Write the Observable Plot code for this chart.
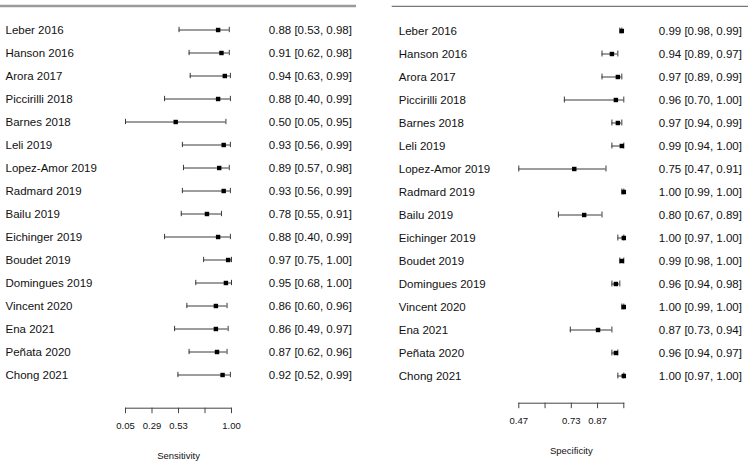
<!DOCTYPE html>
<html>
<head>
<meta charset="utf-8">
<script src="https://cdn.jsdelivr.net/npm/d3@7"></script>
<script src="https://cdn.jsdelivr.net/npm/@observablehq/plot@0.6"></script>
<style>
  html, body { margin: 0; padding: 0; background: #fff; }
  #wrap { display: flex; width: 750px; height: 461px; overflow: hidden; }
  #wrap > div { width: 375px; height: 461px; }
  svg { font-family: "Liberation Sans", Arial, sans-serif; }
</style>
</head>
<body>
<div id="wrap"><div id="left"></div><div id="right"></div></div>
<script>
const studies = ["Leber 2016","Hanson 2016","Arora 2017","Piccirilli 2018","Barnes 2018","Leli 2019",
  "Lopez-Amor 2019","Radmard 2019","Bailu 2019","Eichinger 2019","Boudet 2019","Domingues 2019",
  "Vincent 2020","Ena 2021","Peñata 2020","Chong 2021"];

const sensEst = [0.88,0.91,0.94,0.88,0.50,0.93,0.89,0.93,0.78,0.88,0.97,0.95,0.86,0.86,0.87,0.92];
const sensLo  = [0.53,0.62,0.63,0.40,0.05,0.56,0.57,0.56,0.55,0.40,0.75,0.68,0.60,0.49,0.62,0.52];
const sensHi  = [0.98,0.98,0.99,0.99,0.95,0.99,0.98,0.99,0.91,0.99,1.00,1.00,0.96,0.97,0.96,0.99];

const specEst = [0.99,0.94,0.97,0.96,0.97,0.99,0.75,1.00,0.80,1.00,0.99,0.96,1.00,0.87,0.96,1.00];
const specLo  = [0.98,0.89,0.89,0.70,0.94,0.94,0.47,0.99,0.67,0.97,0.98,0.94,0.99,0.73,0.94,0.97];
const specHi  = [0.99,0.97,0.99,1.00,0.99,1.00,0.91,1.00,0.89,1.00,1.00,0.98,1.00,0.94,0.97,1.00];

const sensTicks = [0.05, 0.2875, 0.525, 0.7625, 1.00];
const sensTickLabels = ["0.05", "0.29", "0.53", "", "1.00"];
const specTicks = [0.47, 0.6025, 0.735, 0.8675, 1.00];
const specTickLabels = ["0.47", "", "0.73", "0.87", ""];

function rows(est, lo, hi) {
  return studies.map((s, i) => ({
    study: s, est: est[i], lo: lo[i], hi: hi[i],
    label: `${est[i].toFixed(2)} [${lo[i].toFixed(2)}, ${hi[i].toFixed(2)}]`
  }));
}

function panel(o) {
  const data = rows(o.est, o.lo, o.hi);
  const bw = (o.yLast - o.yFirst) / (studies.length - 1);
  const capH = 6;
  const inset = (bw - capH) / 2;
  const frameR = 375 - o.marginRight;
  return Plot.plot({
    width: 375,
    height: 461,
    marginLeft: o.marginLeft,
    marginRight: o.marginRight,
    marginTop: 0,
    marginBottom: o.marginBottom,
    style: { fontFamily: "'Liberation Sans', Arial, sans-serif", background: "white" },
    x: { domain: o.domain, axis: null },
    y: { type: "band", domain: studies, range: [o.yFirst - bw / 2, o.yLast + bw / 2], padding: 0, axis: null },
    marks: [
      // separator line at the top of the panel
      Plot.ruleY([studies[0]], { y: d => d, dy: o.topY - o.yFirst, insetLeft: -(o.marginLeft - o.topX1), insetRight: -(o.topX2 - frameR), stroke: o.topStroke, strokeWidth: o.topWidth }),
      // CI lines
      Plot.ruleY(data, { y: "study", x1: "lo", x2: "hi", stroke: "#3a3a3a", strokeWidth: 1 }),
      Plot.tickX(data, { x: "lo", y: "study", insetTop: inset, insetBottom: inset, stroke: "#3a3a3a", strokeWidth: 1 }),
      Plot.tickX(data, { x: "hi", y: "study", insetTop: inset, insetBottom: inset, stroke: "#3a3a3a", strokeWidth: 1 }),
      // point estimates
      Plot.dot(data, { x: "est", y: "study", symbol: "square", r: 2.5, fill: "black", stroke: null }),
      // study labels
      Plot.text(data, { y: "study", text: "study", frameAnchor: "left", dx: o.nameX - o.marginLeft, textAnchor: "start", fontSize: 11.5, fill: "#111" }),
      // value labels
      Plot.text(data, { y: "study", text: "label", frameAnchor: "right", dx: o.valX - frameR, textAnchor: "start", fontSize: 11.5, fill: "#111" }),
      // axis
      Plot.frame({ anchor: "bottom", stroke: "#444" }),
      Plot.axisX(o.ticks, { anchor: "bottom", tickSize: 5.5, tickPadding: o.tickPadding, fontSize: 9.5, stroke: "#444", fill: "#111",
        tickFormat: (d, i) => o.tickLabels[o.ticks.indexOf(d)] }),
      Plot.text([o.title], { frameAnchor: "bottom", dy: o.titleDy, text: d => d, fontSize: 9.5, fill: "#111", lineAnchor: "middle" })
    ]
  });
}

document.getElementById("left").append(panel({
  est: sensEst, lo: sensLo, hi: sensHi,
  domain: [0.05, 1.00], ticks: sensTicks, tickLabels: sensTickLabels,
  marginLeft: 125, marginRight: 144, marginBottom: 461 - 407.7,
  yFirst: 25, yLast: 380, nameX: 5, valX: 268.3,
  topY: 1, topX1: 0, topX2: 356, topStroke: "#9a9a9a", topWidth: 2.5,
  tickPadding: 9, title: "Sensitivity", titleDy: 455 - 407.7
}));

document.getElementById("right").append(panel({
  est: specEst, lo: specLo, hi: specHi,
  domain: [0.47, 1.00], ticks: specTicks, tickLabels: specTickLabels,
  marginLeft: 143.3, marginRight: 126.7, marginBottom: 461 - 402.7,
  yFirst: 30, yLast: 376, nameX: 23.3, valX: 283.3,
  topY: 5.3, topX1: 16.7, topX2: 373, topStroke: "#555", topWidth: 1,
  tickPadding: 9, title: "Specificity", titleDy: 450.7 - 402.7
}));
</script>
</body>
</html>
